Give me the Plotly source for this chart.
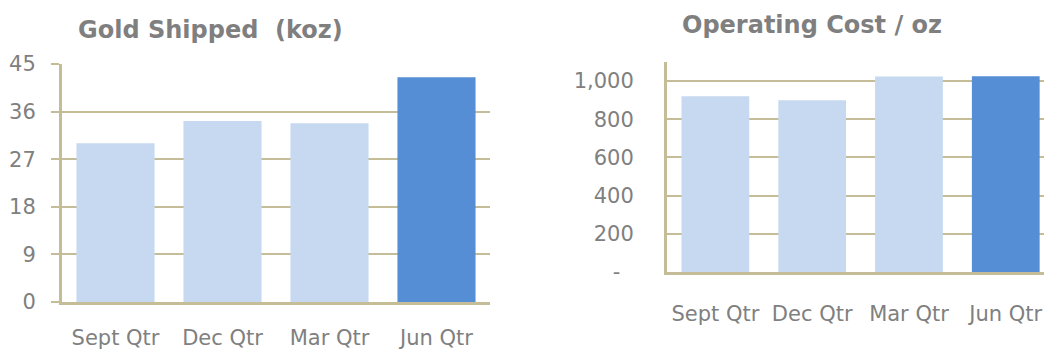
import plotly.graph_objects as go

categories = ["Sept Qtr", "Dec Qtr", "Mar Qtr", "Jun Qtr"]
gold_shipped = [30.0, 34.2, 33.8, 42.5]
operating_cost = [921, 900, 1024, 1026]
gold_ticks = [0, 9, 18, 27, 36, 45]
cost_ticks = [0, 200, 400, 600, 800, 1000]
cost_ticktext = ["-\u00a0\u00a0", "200", "400", "600", "800", "1,000"]

LIGHT = "#C6D9F0"
DARK = "#558ED5"
GRID = "#C4BD97"
TXT = "#808080"
W, H = 1044, 353
FONT = "DejaVu Sans"
TICK = 21

colors = [LIGHT, LIGHT, LIGHT, DARK]

fig = go.Figure()
fig.add_trace(go.Bar(x=categories, y=gold_shipped, marker=dict(color=colors, line=dict(width=0)),
                     width=0.73, xaxis="x", yaxis="y", showlegend=False))
fig.add_trace(go.Bar(x=categories, y=operating_cost, marker=dict(color=colors, line=dict(width=0)),
                     width=0.70, xaxis="x2", yaxis="y2", showlegend=False))

def px(x):
    return x / W

def py(y):
    return 1 - y / H

fig.update_layout(
    width=W, height=H, margin=dict(l=0, r=0, t=0, b=0, pad=0), autosize=False,
    paper_bgcolor="white", plot_bgcolor="white",
    font=dict(family=FONT, color=TXT, size=TICK),
    xaxis=dict(domain=[px(62), px(490)], range=[-0.5, 3.5], anchor="y", automargin=False,
               showline=True, linecolor=GRID, linewidth=3, ticks="", showgrid=False,
               tickfont=dict(size=TICK, color=TXT), ticklabelstandoff=15),
    yaxis=dict(domain=[py(302), py(64)], range=[0, 45], anchor="x", automargin=False,
               tickvals=gold_ticks, showgrid=True, gridcolor=GRID, gridwidth=2,
               showline=True, linecolor=GRID, linewidth=3,
               ticks="outside", ticklen=8, tickcolor=GRID, tickwidth=2,
               tickfont=dict(size=TICK, color=TXT), ticklabelstandoff=11, zeroline=False),
    xaxis2=dict(domain=[px(667), 1.0], range=[-0.5, 3.395], anchor="y2", automargin=False,
                showline=True, linecolor=GRID, linewidth=3, ticks="", showgrid=False,
                tickfont=dict(size=TICK, color=TXT), ticklabelstandoff=21),
    yaxis2=dict(domain=[py(272), py(62)], range=[0, 1100], anchor="x2", automargin=False,
                tickvals=cost_ticks, ticktext=cost_ticktext, showgrid=True, gridcolor=GRID, gridwidth=2,
                showline=True, linecolor=GRID, linewidth=3, ticks="",
                tickfont=dict(size=TICK, color=TXT), ticklabelstandoff=26, zeroline=False),
    annotations=[
        dict(text="<b>Gold Shipped\u00a0\u00a0(koz)</b>", x=px(210), y=py(30), xref="paper", yref="paper",
             showarrow=False, font=dict(size=24, color="#7F7F7F", family=FONT), xanchor="center", yanchor="middle"),
        dict(text="<b>Operating Cost / oz</b>", x=px(812), y=py(25), xref="paper", yref="paper",
             showarrow=False, font=dict(size=24, color="#7F7F7F", family=FONT), xanchor="center", yanchor="middle"),
    ],
)

fig.write_html("out.html")
